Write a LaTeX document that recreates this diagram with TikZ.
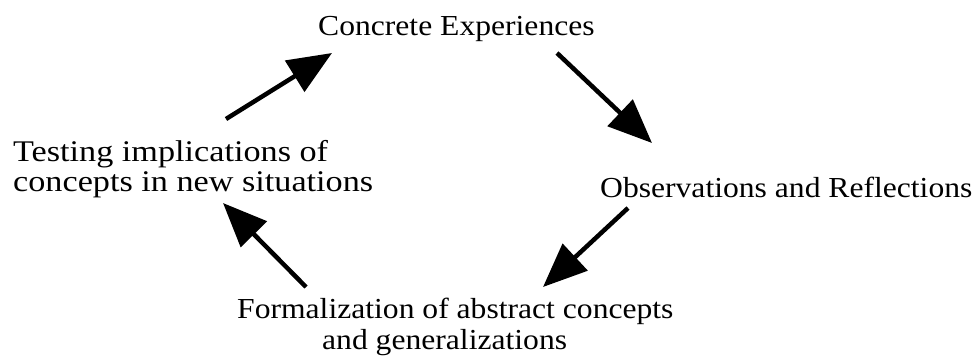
\documentclass[tikz,border=0pt]{standalone}
\usepackage{fontspec}
\setmainfont{Liberation Serif}[FakeStretch=1.09]
\usetikzlibrary{arrows.meta}
\begin{document}
\begin{tikzpicture}[x=1pt,y=-1pt,
  lbl/.style={inner sep=0pt,font=\fontsize{29}{31}\selectfont},
  cyc/.style={line width=4.5pt,-{Triangle[length=44pt,width=36pt]}}]
\useasboundingbox (0,0) rectangle (978,357);
\node[lbl,anchor=base west] (ce) at (318,35) {Concrete Experiences};
\node[lbl,anchor=base west,align=left,font=\fontsize{30}{30}\selectfont\addfontfeature{FakeStretch=1.14}] (ti) at (13,191) {Testing implications of\\concepts in new situations};
\node[lbl,anchor=base west] (or) at (600,197) {Observations and Reflections};
\node[lbl,anchor=base west,align=left] (fa) at (237,349) {Formalization of abstract concepts\\\hspace*{85pt}and generalizations};
\coordinate (a1s) at (226,119); \coordinate (a1e) at (332,53);
\coordinate (a2s) at (557,53);  \coordinate (a2e) at (652,143);
\coordinate (a3s) at (628,208); \coordinate (a3e) at (543,287);
\coordinate (a4s) at (306,287); \coordinate (a4e) at (223,203);
\draw[cyc] (a1s) -- (a1e);
\draw[cyc] (a2s) -- (a2e);
\draw[cyc] (a3s) -- (a3e);
\draw[cyc] (a4s) -- (a4e);
\end{tikzpicture}
\end{document}
